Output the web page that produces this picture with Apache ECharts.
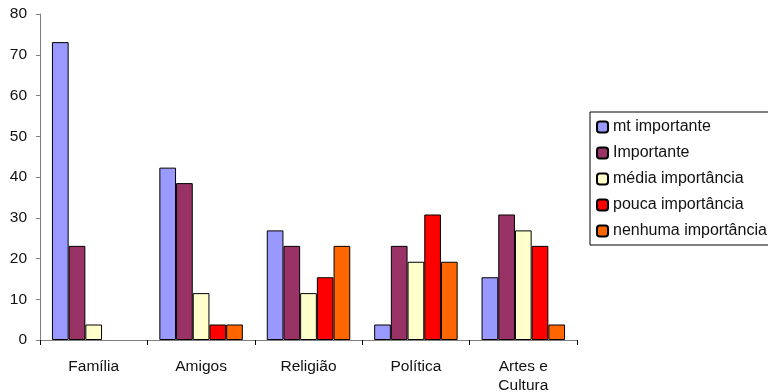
<!DOCTYPE html>
<html>
<head>
<meta charset="utf-8">
<script src="https://cdn.jsdelivr.net/npm/echarts@6/dist/echarts.min.js"></script>
<style>
  html, body { margin: 0; padding: 0; background: #fff; }
  #chart { width: 768px; height: 392px; }
</style>
</head>
<body>
<div id="chart"></div>
<script>
// Categories and percentages per importance level
const categories = ['Família', 'Amigos', 'Religião', 'Política', 'Artes e\nCultura'];
const seriesNames = ['mt importante', 'Importante', 'média importância', 'pouca importância', 'nenhuma importância'];
const mtImportante = [73.1, 42.3, 26.9, 3.8, 15.4];
const importante = [23.1, 38.5, 23.1, 23.1, 30.8];
const mediaImportancia = [3.8, 11.5, 11.5, 19.2, 26.9];
const poucaImportancia = [0, 3.8, 15.4, 30.8, 23.1];
const nenhumaImportancia = [0, 3.8, 23.1, 19.2, 3.8];
const yTicks = [0, 10, 20, 30, 40, 50, 60, 70, 80];

const values = [mtImportante, importante, mediaImportancia, poucaImportancia, nenhumaImportancia];
const colors = ['#9999FF', '#993366', '#FFFFCC', '#FF0000', '#FF6600'];
const font = 'Liberation Sans, Arial, sans-serif';

const chart = echarts.init(document.getElementById('chart'), null, { renderer: 'canvas' });
chart.setOption({
  animation: false,
  textStyle: { fontFamily: font },
  grid: { left: 40, right: 191, top: 14, bottom: 52, outerBoundsMode: 'none', containLabel: false },
  legend: {
    orient: 'vertical',
    left: 590,
    top: 112,
    padding: [7, 20, 6, 6],
    itemWidth: 11,
    itemHeight: 11,
    itemGap: 10,
    borderColor: '#000',
    borderWidth: 1,
    textStyle: { fontFamily: font, fontSize: 16, color: '#111' },
    data: seriesNames
  },
  xAxis: {
    type: 'category',
    data: categories,
    axisLine: { lineStyle: { color: '#808080', width: 1 } },
    axisTick: { show: true, length: 5, lineStyle: { color: '#000' } },
    axisLabel: { fontFamily: font, fontSize: 15.5, color: '#111', margin: 17, lineHeight: 19 }
  },
  yAxis: {
    type: 'value',
    min: yTicks[0],
    max: yTicks[yTicks.length - 1],
    interval: 10,
    axisLine: { show: true, lineStyle: { color: '#808080', width: 1 } },
    axisTick: { show: true, length: 4, lineStyle: { color: '#808080' } },
    splitLine: { show: false },
    axisLabel: { fontFamily: font, fontSize: 15.5, color: '#111', margin: 13 }
  },
  series: seriesNames.map((name, i) => ({
    name: name,
    type: 'bar',
    // a zero share draws no bar at all
    data: values[i].map(v => (v === 0 ? null : v)),
    barWidth: 16.7,
    barGap: '0%',
    itemStyle: { color: colors[i], borderColor: '#000', borderWidth: 1 }
  }))
});
</script>
</body>
</html>
